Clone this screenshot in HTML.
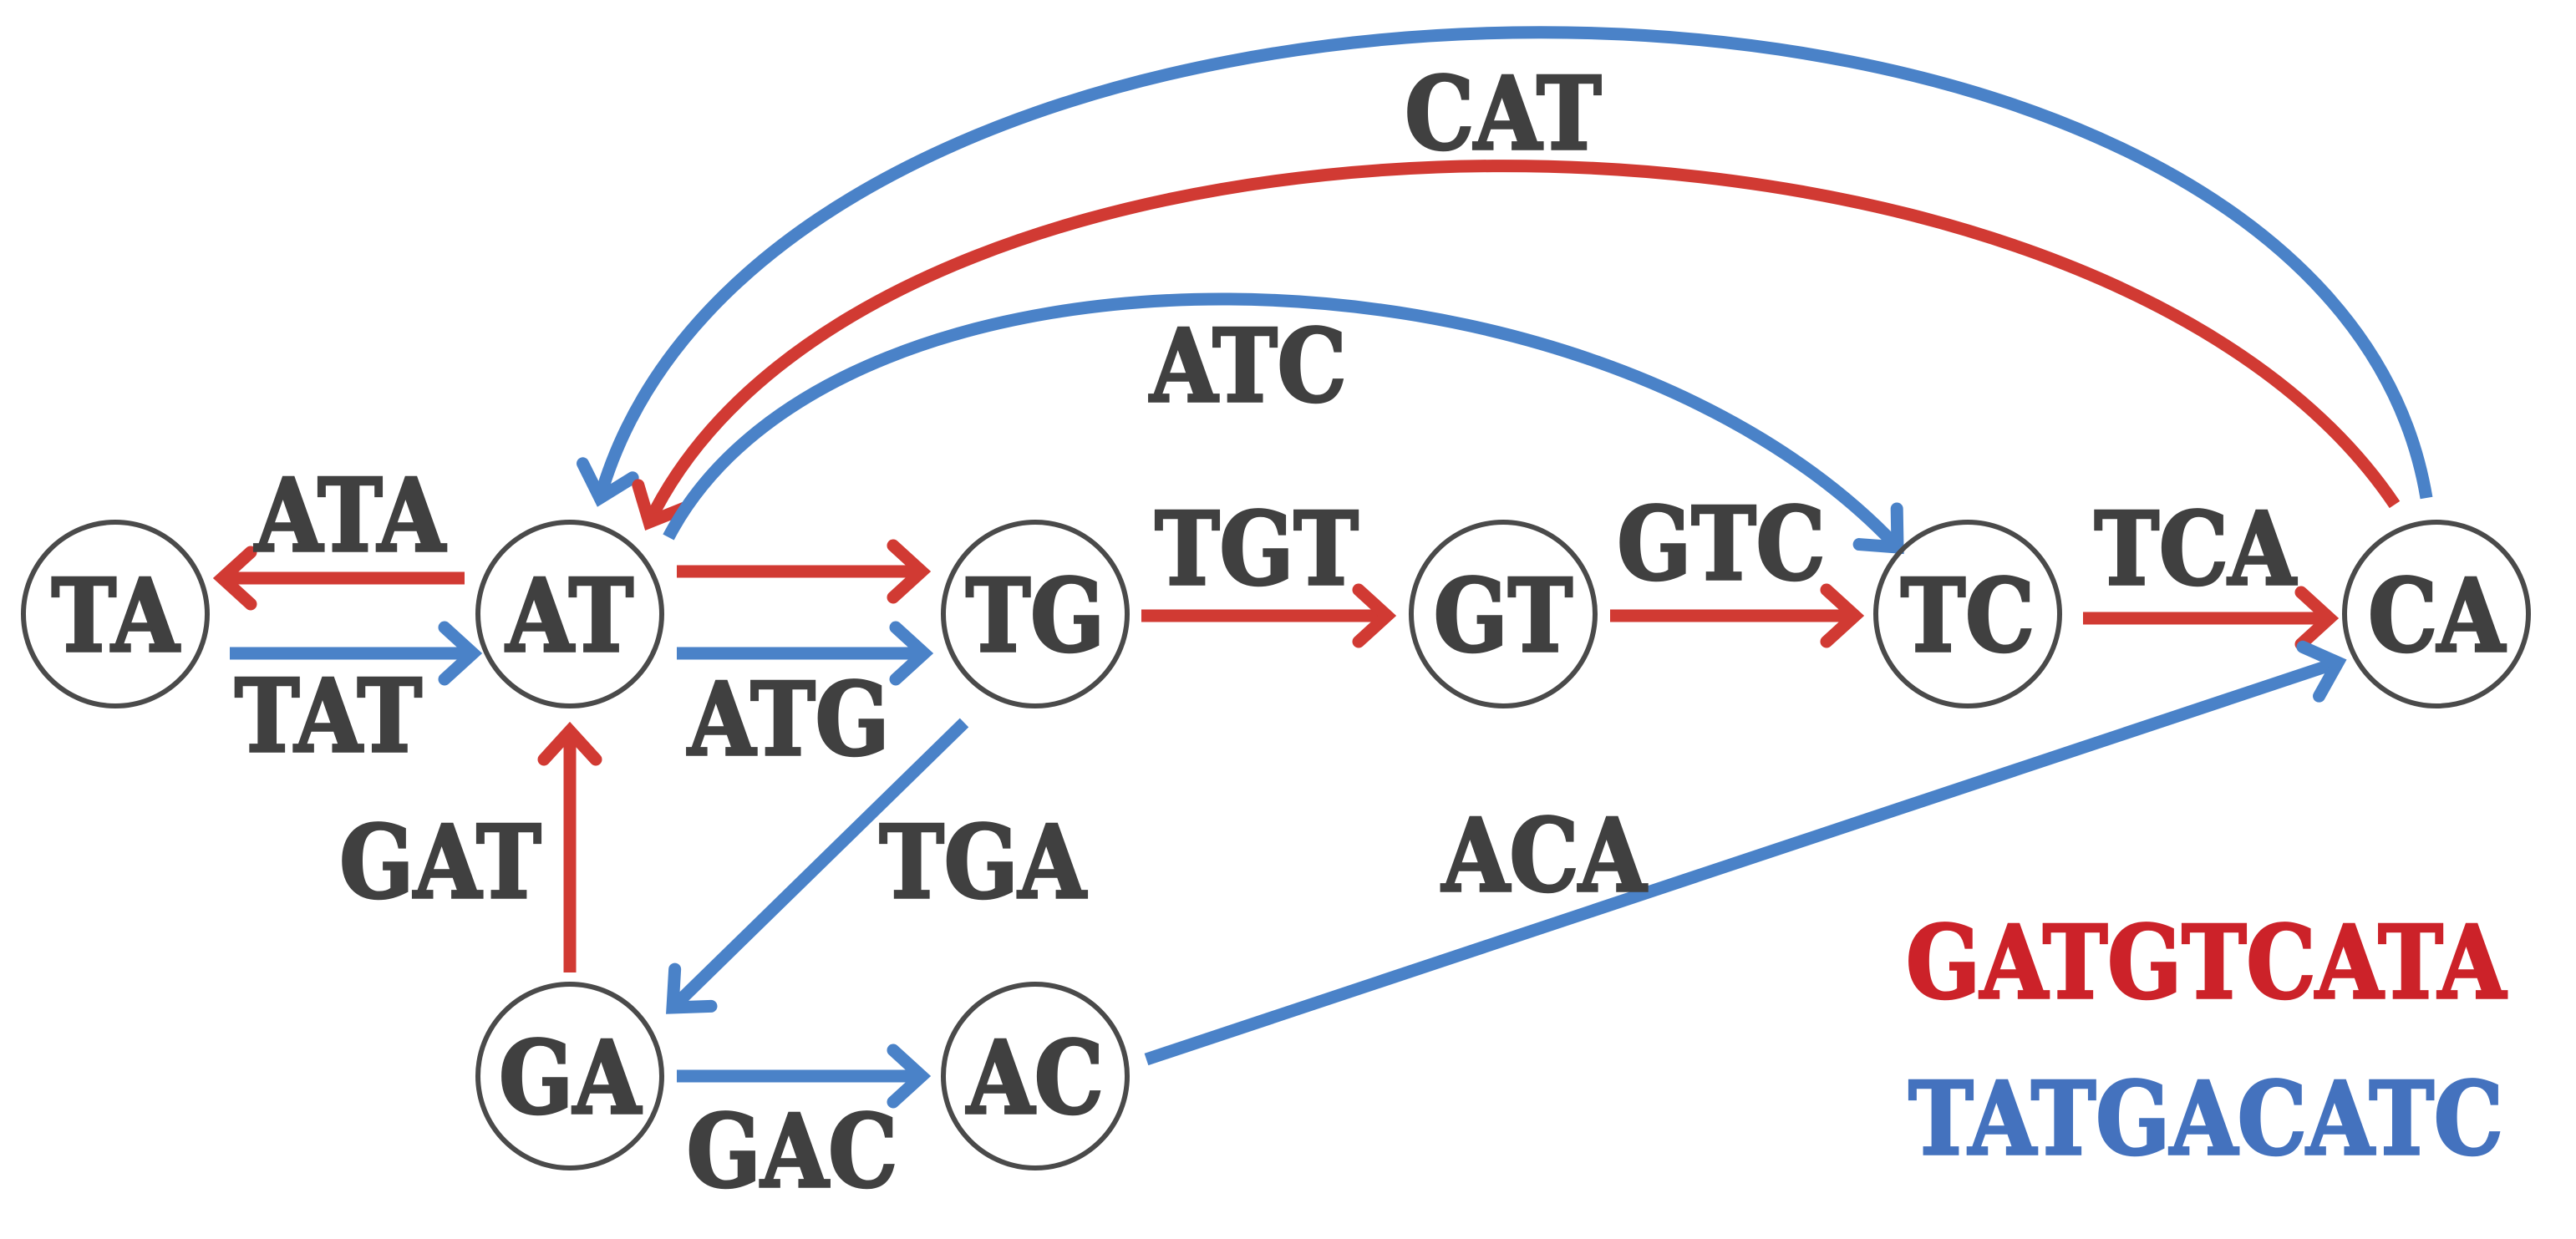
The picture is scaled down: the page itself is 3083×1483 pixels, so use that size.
<!DOCTYPE html>
<html><head><meta charset="utf-8"><style>
html,body{margin:0;padding:0;background:#fff;}
svg{display:block;}
text{font-family:"DejaVu Serif","Liberation Serif",serif;font-weight:bold;fill:#404040;text-anchor:middle;dominant-baseline:central;transform-box:fill-box;transform-origin:center;transform:scaleY(1.15);}
</style></head><body>
<svg width="3083" height="1483" viewBox="0 0 3083 1483" xmlns="http://www.w3.org/2000/svg">
<defs>
<marker id="ar" markerUnits="userSpaceOnUse" markerWidth="100" markerHeight="100" viewBox="-60 -50 80 100" refX="0" refY="0" orient="auto">
<path d="M-34 -31 L0 0 L-34 31" fill="none" stroke="#d13a33" stroke-width="15" stroke-linecap="round" stroke-linejoin="miter"/>
</marker>
<marker id="ab" markerUnits="userSpaceOnUse" markerWidth="100" markerHeight="100" viewBox="-60 -50 80 100" refX="0" refY="0" orient="auto">
<path d="M-34 -31 L0 0 L-34 31" fill="none" stroke="#4a82c8" stroke-width="15" stroke-linecap="round" stroke-linejoin="miter"/>
</marker>
</defs>
<g fill="none" stroke-width="15">
<path d="M2904 596 C2780 -147 930 -147 718 596" stroke="#4a82c8" marker-end="url(#ab)"/>
<path d="M2866 604 C2500 60 1050 60 777 625" stroke="#d13a33" marker-end="url(#ar)"/>
<path d="M800 643 C1000 260 1900 262 2271 655" stroke="#4a82c8" marker-end="url(#ab)"/>
<line x1="556" y1="692" x2="266" y2="692" stroke="#d13a33" marker-end="url(#ar)"/>
<line x1="275" y1="782" x2="566" y2="782" stroke="#4a82c8" marker-end="url(#ab)"/>
<line x1="810" y1="684" x2="1103" y2="684" stroke="#d13a33" marker-end="url(#ar)"/>
<line x1="810" y1="782" x2="1106" y2="782" stroke="#4a82c8" marker-end="url(#ab)"/>
<line x1="1366" y1="737" x2="1660" y2="737" stroke="#d13a33" marker-end="url(#ar)"/>
<line x1="1927" y1="737" x2="2220" y2="737" stroke="#d13a33" marker-end="url(#ar)"/>
<line x1="2493" y1="740" x2="2788" y2="740" stroke="#d13a33" marker-end="url(#ar)"/>
<line x1="682" y1="1164" x2="682" y2="875" stroke="#d13a33" marker-end="url(#ar)"/>
<line x1="1154" y1="865" x2="805" y2="1206" stroke="#4a82c8" marker-end="url(#ab)"/>
<line x1="810" y1="1288" x2="1103" y2="1288" stroke="#4a82c8" marker-end="url(#ab)"/>
<line x1="1372" y1="1268" x2="2798" y2="793" stroke="#4a82c8" marker-end="url(#ab)"/>
</g>
<g fill="none" stroke="#4a4a4a" stroke-width="6">
<circle cx="138" cy="735" r="110"/>
<circle cx="682" cy="735" r="110"/>
<circle cx="1239" cy="735" r="110"/>
<circle cx="1799" cy="735" r="110"/>
<circle cx="2355" cy="735" r="110"/>
<circle cx="2916" cy="735" r="110"/>
<circle cx="682" cy="1288" r="110"/>
<circle cx="1239" cy="1288" r="110"/>
</g>
<g font-size="104" stroke="#404040" stroke-width="3">
<text x="138" y="738">TA</text>
<text x="682" y="738">AT</text>
<text x="1239" y="738">TG</text>
<text x="1799" y="738">GT</text>
<text x="2355" y="738">TC</text>
<text x="2916" y="738">CA</text>
<text x="682" y="1291">GA</text>
<text x="1239" y="1291">AC</text>
<text x="419" y="618">ATA</text>
<text x="393" y="858">TAT</text>
<text x="944" y="862">ATG</text>
<text x="1504" y="658">TGT</text>
<text x="2060" y="652">GTC</text>
<text x="2627" y="658">TCA</text>
<text x="1494" y="439">ATC</text>
<text x="1799" y="137">CAT</text>
<text x="527" y="1033">GAT</text>
<text x="1176" y="1033">TGA</text>
<text x="1848" y="1025">ACA</text>
<text x="948" y="1379">GAC</text>
<text x="2640" y="1153" style="fill:#cc2229;stroke:#cc2229">GATGTCATA</text>
<text x="2640" y="1340" style="fill:#4472be;stroke:#4472be">TATGACATC</text>
</g>
</svg>
</body></html>
